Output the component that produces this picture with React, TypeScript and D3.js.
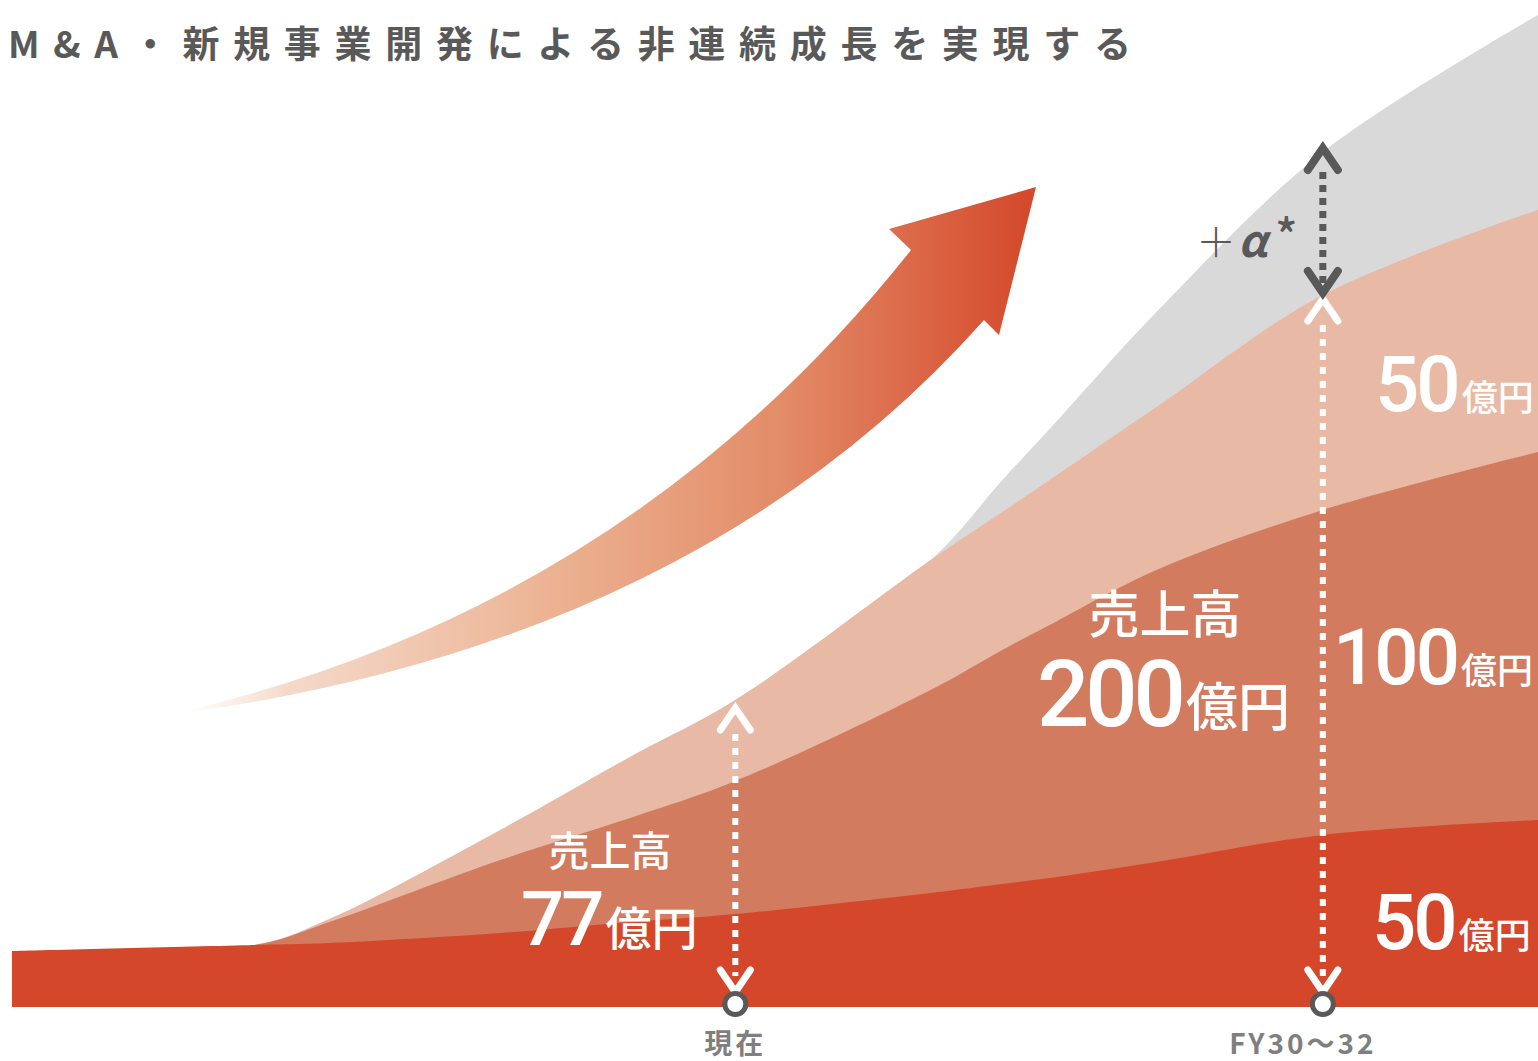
import React from "react";
import * as d3 from "d3";

// time axis (0 = start of chart, 100 = right edge)
const periods = [0, 15.9, 20.8, 32, 40.5, 47.4, 60.2, 64.9, 68, 75, 85.9, 100];
// layer thicknesses (arbitrary units)
const baseSales = [56, 62, 64, 74, 85, 93, 114, 123, 129, 145, 172, 187];
const newBiz100 = [0, 0, 21, 73, 104, 133, 203, 234, 253, 292, 325, 368];
const newBiz50 = [0, 0, 3, 30, 61, 81, 130, 138, 145, 163, 215, 242];
const alphaPart = [0, 0, 0, 0, 0, 0, 0, 32, 51, 95, 143, 195];
const layerKeys = ["base", "b100", "b50", "alpha"];
const layerColors = ["#D4472A", "#D27B5F", "#E8B9A5", "#D9D9D9"];

const currentIdx = 5;
const targetIdx = 10;

const title = "M&A・新規事業開発による非連続成長を実現する";
const xLabels = ["現在", "FY30～32"];

const W = 1538;
const H = 1061;
const JP = "'Noto Sans CJK JP', 'Noto Sans', sans-serif";
const NUM = "Roboto, 'Noto Sans', sans-serif";

export default function App() {
  const x = d3.scaleLinear().domain([0, 100]).range([12, 1538]);
  const y = d3.scaleLinear().domain([0, 1000]).range([1007, 7]);

  const rows = periods.map((t, i) => ({
    t,
    base: baseSales[i],
    b100: newBiz100[i],
    b50: newBiz50[i],
    alpha: alphaPart[i],
  }));
  const stacked = d3.stack<any>().keys(layerKeys)(rows);

  const area = d3
    .area<any>()
    .x((d: any) => x(d.data.t))
    .y0(() => y(0))
    .y1((d: any) => y(d[1]))
    .curve(d3.curveCatmullRom.alpha(0.5));

  // draw back to front: cumulative areas
  const layers = stacked.map((s, i) => ({ path: area(s as any) as string, color: layerColors[i] })).reverse();

  const cx = x(periods[currentIdx]);
  const tx = x(periods[targetIdx]);
  const curTop = y(stacked[2][currentIdx][1]) + 8;
  const tgtTop = y(stacked[2][targetIdx][1]) + 4;
  const tgtAlphaTop = y(stacked[3][targetIdx][1]) - 4;
  const ringY = y(0) - 3;

  const chev = (px: number, py: number, dir: number) =>
    `M${px - 15},${py + dir * 22} L${px},${py} L${px + 15},${py + dir * 22}`;

  // decorative growth arrow
  const arrow = d3.path();
  arrow.moveTo(185, 711);
  arrow.quadraticCurveTo(630, 605, 911, 250);
  arrow.lineTo(889, 229);
  arrow.lineTo(1036, 187);
  arrow.lineTo(999, 335);
  arrow.lineTo(984, 320);
  arrow.quadraticCurveTo(700, 640, 185, 713);
  arrow.closePath();

  return (
    <svg
      width={W}
      height={H}
      style={{ position: "absolute", left: 0, top: 0, background: "#fff" }}
    >
      <defs>
        <linearGradient id="arrowGrad" gradientUnits="userSpaceOnUse" x1={185} y1={0} x2={1036} y2={0}>
          <stop offset="0" stopColor="#F6DCCD" stopOpacity={0} />
          <stop offset="0.12" stopColor="#F3D5C3" stopOpacity={0.9} />
          <stop offset="0.45" stopColor="#EBB08F" />
          <stop offset="0.7" stopColor="#E38C68" />
          <stop offset="1" stopColor="#D4472A" />
        </linearGradient>
      </defs>

      <text
        x={8}
        y={58}
        fontFamily={JP}
        fontWeight={700}
        fontSize={37}
        fill="#595959"
        style={{ letterSpacing: "13.7px" }}
      >
        {title}
      </text>

      {layers.map((l, i) => (
        <path key={i} d={l.path} fill={l.color} />
      ))}

      <path d={arrow.toString()} fill="url(#arrowGrad)" />

      {/* current marker */}
      <line x1={cx} x2={cx} y1={curTop + 26} y2={ringY - 28} stroke="#fff" strokeWidth={6} strokeDasharray="7 7" />
      <path d={chev(cx, curTop, 1)} fill="none" stroke="#fff" strokeWidth={7} strokeLinecap="round" strokeLinejoin="miter" />
      <path d={chev(cx, ringY - 12, -1)} fill="none" stroke="#fff" strokeWidth={7} strokeLinecap="round" />
      <circle cx={cx} cy={ringY} r={10.5} fill="#fff" stroke="#595959" strokeWidth={5} />

      {/* target marker */}
      <line x1={tx} x2={tx} y1={tgtTop + 26} y2={ringY - 28} stroke="#fff" strokeWidth={6} strokeDasharray="7 7" />
      <path d={chev(tx, tgtTop, 1)} fill="none" stroke="#fff" strokeWidth={7} strokeLinecap="round" />
      <path d={chev(tx, ringY - 12, -1)} fill="none" stroke="#fff" strokeWidth={7} strokeLinecap="round" />
      <circle cx={tx} cy={ringY} r={10.5} fill="#fff" stroke="#595959" strokeWidth={5} />

      {/* alpha marker */}
      <line x1={tx} x2={tx} y1={tgtAlphaTop + 24} y2={tgtTop - 14} stroke="#595959" strokeWidth={7} strokeDasharray="7 6" />
      <path d={chev(tx, tgtAlphaTop, 1)} fill="none" stroke="#595959" strokeWidth={8} strokeLinecap="round" />
      <path d={chev(tx, tgtTop - 6, -1)} fill="none" stroke="#595959" strokeWidth={8} strokeLinecap="round" />

      <text x={1196} y={257} fill="#595959" fontFamily={JP}>
        <tspan fontSize={40} fontWeight={300}>＋</tspan>
        <tspan fontSize={44} fontWeight={700} fontStyle="italic" dx={2}>α</tspan>
        <tspan fontSize={46} fontWeight={500} dx={8} dy={-4}>*</tspan>
      </text>

      {/* sales labels */}
      <text x={610} y={866} textAnchor="middle" fill="#fff" fontFamily={JP} fontWeight={500} fontSize={41}>
        売上高
      </text>
      <text x={521} y={945} fill="#fff">
        <tspan fontFamily={NUM} fontWeight={500} fontSize={76} style={{ letterSpacing: "-3px" }}>77</tspan>
        <tspan fontFamily={JP} fontWeight={500} fontSize={46} dx={4}>億円</tspan>
      </text>

      <text x={1165} y={633} textAnchor="middle" fill="#fff" fontFamily={JP} fontWeight={500} fontSize={51}>
        売上高
      </text>
      <text x={1037} y={726} fill="#fff">
        <tspan fontFamily={NUM} fontWeight={500} fontSize={92} style={{ letterSpacing: "-4px" }}>200</tspan>
        <tspan fontFamily={JP} fontWeight={500} fontSize={52} dx={4}>億円</tspan>
      </text>

      {/* right labels */}
      {[
        { v: "50", yy: 411, xx: 1375 },
        { v: "100", yy: 684, xx: 1333 },
        { v: "50", yy: 949, xx: 1372 },
      ].map((d, i) => (
        <text key={i} x={d.xx} y={d.yy} fill="#fff">
          <tspan fontFamily={NUM} fontWeight={500} fontSize={78} style={{ letterSpacing: "-3px" }}>{d.v}</tspan>
          <tspan fontFamily={JP} fontWeight={500} fontSize={36} dx={4}>億円</tspan>
        </text>
      ))}

      {/* x labels */}
      <text x={cx} y={1054} textAnchor="middle" fill="#7F7F7F" fontFamily={JP} fontWeight={700} fontSize={28} style={{ letterSpacing: "3px" }}>
        {xLabels[0]}
      </text>
      <text x={tx - 20} y={1054} textAnchor="middle" fill="#7F7F7F" fontFamily={JP} fontWeight={700} fontSize={28} style={{ letterSpacing: "3px" }}>
        {xLabels[1]}
      </text>
    </svg>
  );
}
